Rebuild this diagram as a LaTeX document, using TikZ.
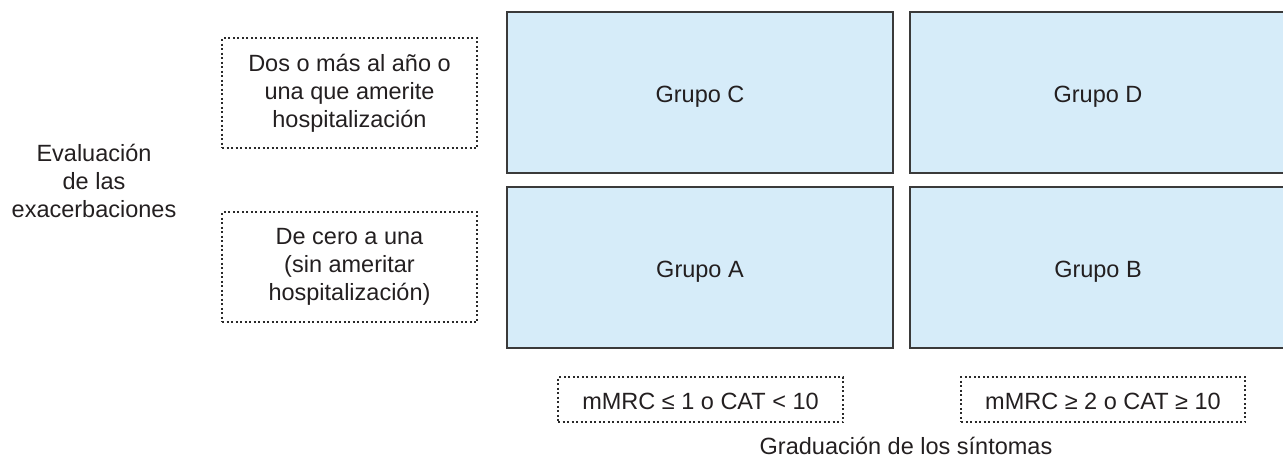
\documentclass[tikz,border=0pt]{standalone}
\usepackage{fontspec}
\setmainfont{Liberation Sans}
\definecolor{txt}{HTML}{231F20}
\definecolor{boxline}{HTML}{3A3A3A}
\definecolor{boxfill}{HTML}{D6ECF9}
\definecolor{dotline}{HTML}{2A2A2A}
\begin{document}
\begin{tikzpicture}[x=1pt,y=-1pt,
  font=\fontsize{23.5}{28}\selectfont, text=txt,
  grupo/.style={draw=boxline, line width=1.5pt, fill=boxfill, inner sep=0pt,
    text height=19pt, text depth=0pt},
  dotbox/.style={draw=dotline, line width=1.4pt, dash pattern=on 2pt off 2.5pt,
    inner sep=0pt, align=center},
  plain/.style={inner sep=0pt, align=center}]
\useasboundingbox (0,0) rectangle (1283,461);
% group boxes
\node[grupo, minimum width=386pt, minimum height=161pt] (C) at (700,92.5) {Grupo C};
\node[grupo, minimum width=376pt, minimum height=161pt] (D) at (1098,92.5) {Grupo D};
\node[grupo, minimum width=386pt, minimum height=161pt] (A) at (700,267.5) {Grupo A};
\node[grupo, minimum width=376pt, minimum height=161pt] (B) at (1098,267.5) {Grupo B};
% exacerbation criteria
\node[dotbox, minimum width=255pt, minimum height=110pt] (q1) at (349.5,93)
  {Dos o más al año o\\una que amerite\\hospitalización};
\node[dotbox, minimum width=255pt, minimum height=110pt] (q2) at (349.5,267)
  {De cero a una\\(sin ameritar\\hospitalización)};
% symptom criteria
\node[dotbox, minimum width=285pt, minimum height=45pt, text height=20pt, text depth=0pt] (s1) at (700.5,399.5)
  {mMRC ≤ 1 o CAT < 10};
\node[dotbox, minimum width=284pt, minimum height=45pt, text height=20pt, text depth=0pt] (s2) at (1103,399.5)
  {mMRC ≥ 2 o CAT ≥ 10};
% axis labels
\node[plain] (eval) at (94,181.3) {Evaluación\\de las\\exacerbaciones};
\node[plain, anchor=base] (grad) at (906,454) {Graduación de los síntomas};
\end{tikzpicture}
\end{document}
